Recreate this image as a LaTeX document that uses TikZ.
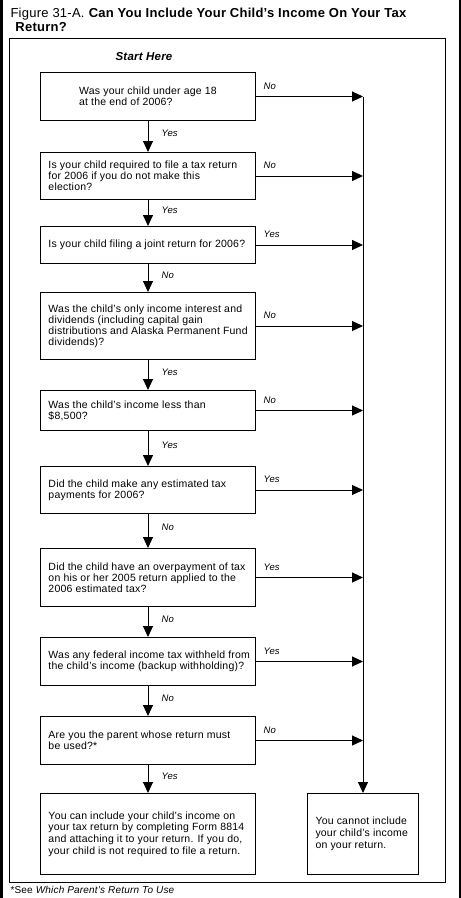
\documentclass[tikz,border=0pt]{standalone}
\usepackage{fontspec}
\setmainfont{Liberation Sans}[LetterSpace=2]
\usetikzlibrary{arrows.meta}
\begin{document}
\begin{tikzpicture}[x=1pt,y=-1pt, line width=1pt,
  frbox/.style={draw, rectangle, anchor=north west, minimum width=215pt, inner sep=0pt},
  qtext/.style={anchor=west, inner sep=0pt, align=left, xshift=8pt,
    font=\fontsize{10.5}{11}\selectfont},
  etext/.style={qtext, font=\fontsize{10.5}{11.8}\selectfont},
  lbl/.style={font=\fontsize{9.5}{10}\selectfont\itshape, inner sep=0pt},
  arr/.style={-{Triangle[length=11pt,width=10pt]}}
]
\useasboundingbox (0,0) rectangle (461,898);
% dark scan edges
\fill[black] (0,0) rectangle (3,898);
\fill[black] (459,0) rectangle (461,898);
% title
\node[anchor=base west, inner sep=0pt, font=\fontsize{13}{14}\selectfont] (t1) at (10,17)
  {Figure 31-A. \textbf{Can You Include Your Child’s Income On Your Tax}};
\node[anchor=base west, inner sep=0pt, font=\fontsize{13}{14}\selectfont\bfseries] (t2) at (15,31)
  {Return?};
% frame
\draw (9,38) rectangle (445,882);
\node[font=\fontsize{11.5}{12}\selectfont\bfseries\itshape, inner sep=0pt] (start) at (144,57) {Start Here};
% question boxes
\node[frbox, minimum height=48pt] (b1) at (40,72) {};
\node[anchor=center, inner sep=0pt, align=left, font=\fontsize{10.5}{11}\selectfont] (b1t) at (b1.center)
  {Was your child under age 18\\at the end of 2006?};
\node[frbox, minimum height=47pt] (b2) at (40,152) {};
\node[qtext] (b2t) at (b2.west)
  {Is your child required to file a tax return\\for 2006 if you do not make this\\election?};
\node[frbox, minimum height=37pt] (b3) at (40,226) {};
\node[qtext] (b3t) at (b3.west)
  {Is your child filing a joint return for 2006?};
\node[frbox, minimum height=67pt] (b4) at (40,292) {};
\node[qtext] (b4t) at (b4.west)
  {Was the child’s only income interest and\\dividends (including capital gain\\distributions and Alaska Permanent Fund\\dividends)?};
\node[frbox, minimum height=40pt] (b5) at (40,390) {};
\node[qtext] (b5t) at (b5.west)
  {Was the child’s income less than\\\$8,500?};
\node[frbox, minimum height=47pt] (b6) at (40,466) {};
\node[qtext] (b6t) at (b6.west)
  {Did the child make any estimated tax\\payments for 2006?};
\node[frbox, minimum height=58pt] (b7) at (40,548) {};
\node[qtext] (b7t) at (b7.west)
  {Did the child have an overpayment of tax\\on his or her 2005 return applied to the\\2006 estimated tax?};
\node[frbox, minimum height=48pt] (b8) at (40,637) {};
\node[qtext] (b8t) at (b8.west)
  {Was any federal income tax withheld from\\the child’s income (backup withholding)?};
\node[frbox, minimum height=48pt] (b9) at (40,716) {};
\node[qtext] (b9t) at (b9.west)
  {Are you the parent whose return must\\be used?*};
% end boxes
\node[frbox, minimum height=81pt] (b10) at (40,793) {};
\node[etext] (b10t) at (b10.west)
  {You can include your child’s income on\\your tax return by completing Form 8814\\and attaching it to your return. If you do,\\your child is not required to file a return.};
\node[frbox, minimum width=111pt, minimum height=81pt] (rb) at (307,793) {};
\node[etext] (rbt) at (rb.west)
  {You cannot include\\your child’s income\\on your return.};
% right collector line
\coordinate (rx) at (363,0);
\coordinate (rtop) at (b1.east -| rx);
\draw[arr] (rtop) -- (rb.north);
% horizontal arrows with labels
\foreach \b/\t in {b1/No,b2/No,b3/Yes,b4/No,b5/No,b6/Yes,b7/Yes,b8/Yes,b9/No}{
  \draw[arr] (\b.east) -- (\b.east -| rx);
  \node[lbl, anchor=base west] (h\b) at ([xshift=7pt,yshift=7.5pt]\b.east) {\t};
}
% vertical arrows with labels
\foreach \a/\b/\t in {b1/b2/Yes,b2/b3/Yes,b3/b4/No,b4/b5/Yes,b5/b6/Yes,b6/b7/No,b7/b8/No,b8/b9/No,b9/b10/Yes}{
  \draw[arr] (\a.south) -- (\b.north);
  \path (\a.south) -- (\b.north) node[lbl, pos=0.4, anchor=west, xshift=13pt] (v\a) {\t};
}
% footnote
\node[anchor=base west, inner sep=0pt, font=\fontsize{10}{11}\selectfont] (fn) at (10,893)
  {*See \textit{Which Parent’s Return To Use}};
\end{tikzpicture}
\end{document}
